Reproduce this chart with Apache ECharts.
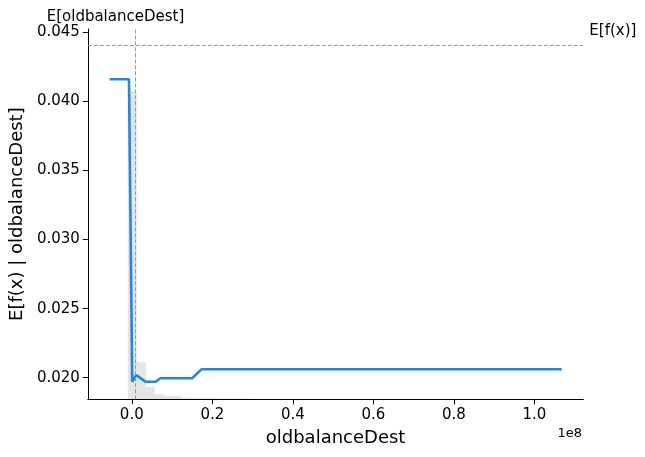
<!DOCTYPE html>
<html><head><meta charset="utf-8">
<script src="https://cdn.jsdelivr.net/npm/echarts@6/dist/echarts.min.js"></script>
<style>html,body{margin:0;padding:0;background:#fff}#c{width:645px;height:457px}</style>
</head><body><div id="c"></div>
<script>
// Partial dependence line
const lineX = [-5.5e6, -0.7e6, 0.1e6, 1.1e6, 3.4e6, 5.9e6, 7.1e6, 15.0e6, 17.3e6, 106.8e6];
const lineY = [0.0416, 0.0416, 0.01971, 0.0202, 0.01971, 0.01971, 0.01996, 0.01996, 0.02061, 0.02061];
// Histogram (bin left edges, width, fraction of samples)
const histStart = [-1.0e6, 1.25e6, 3.5e6, 5.75e6, 8.0e6, 10.25e6, 12.5e6, 14.75e6, 17.0e6, 19.25e6, 21.5e6, 23.75e6, 26.0e6, 28.25e6];
const histWidth = 2.25e6;
const histFrac = [0.831, 0.100, 0.034, 0.014, 0.009, 0.008, 0.004, 0.003, 0.003, 0.003, 0.002, 0.002, 0.002, 0.002];
// Axis ticks
const xTicks = [0, 2e7, 4e7, 6e7, 8e7, 1e8];
const yTicks = [0.020, 0.025, 0.030, 0.035, 0.040, 0.045];
const expectedValue = 0.04408;
const featureMean = 0.92e6;

const FONT = 'DejaVu Sans';
const chart = echarts.init(document.getElementById('c'), null, {renderer: 'canvas'});
const lineData = lineX.map((x, i) => [x, lineY[i]]);
const histData = histStart.map((s, i) => [s, s + histWidth, histFrac[i]]);

chart.setOption({
  animation: false,
  backgroundColor: '#fff',
  textStyle: {fontFamily: FONT},
  grid: {left: 87.3, right: 61.7, top: 29, bottom: 57.7, containLabel: false},
  xAxis: {
    type: 'value', min: -10.92e6, max: 112.16e6,
    name: 'oldbalanceDest', nameLocation: 'middle', nameGap: 30,
    nameTextStyle: {fontFamily: FONT, fontSize: 18, color: '#000'},
    axisLine: {show: true, onZero: false, lineStyle: {color: '#000', width: 1}},
    axisTick: {show: true, length: 5, lineStyle: {color: '#000'}, customValues: xTicks},
    axisLabel: {customValues: xTicks, fontFamily: FONT, fontSize: 15, color: '#000', margin: 8,
      formatter: v => (v / 1e8).toFixed(1)},
    splitLine: {show: false}
  },
  yAxis: [{
    type: 'value', min: 0.01844, max: 0.04524,
    name: 'E[f(x) | oldbalanceDest]', nameLocation: 'middle', nameGap: 61, nameRotate: 90,
    nameTextStyle: {fontFamily: FONT, fontSize: 18, color: '#000'},
    axisLine: {show: true, onZero: false, lineStyle: {color: '#000', width: 1}},
    axisTick: {show: true, length: 5, lineStyle: {color: '#000'}, customValues: yTicks},
    axisLabel: {customValues: yTicks, fontFamily: FONT, fontSize: 15, color: '#000', margin: 8,
      formatter: v => v.toFixed(3)},
    splitLine: {show: false}
  }, {
    type: 'value', min: 0, max: 1, show: false, splitLine: {show: false}
  }],
  graphic: [{
    type: 'text', right: 63, top: 427,
    style: {text: '1e8', fontFamily: FONT, fontSize: 13, fill: '#000'}
  }],
  series: [{
    type: 'custom', yAxisIndex: 1, z: 1, silent: true,
    data: histData,
    encode: {x: [0, 1], y: 2},
    renderItem: function (params, api) {
      const p0 = api.coord([api.value(0), 0]);
      const p1 = api.coord([api.value(1), api.value(2)]);
      return {type: 'rect', shape: {x: p0[0], y: p1[1], width: p1[0] - p0[0], height: p0[1] - p1[1]},
        style: {fill: 'rgba(0,0,0,0.1)'}};
    }
  }, {
    type: 'line', data: lineData, showSymbol: false, symbol: 'none', z: 3,
    lineStyle: {color: '#1E88E5', width: 2.6},
    markLine: {
      silent: true, symbol: 'none', animation: false, precision: 8,
      lineStyle: {color: '#999', type: [4, 2], width: 1},
      data: [
        {yAxis: expectedValue, label: {show: true, position: 'end', formatter: 'E[f(x)]', fontFamily: FONT, fontSize: 15, color: '#000', distance: 6, offset: [0, -14]}},
        {xAxis: featureMean, label: {show: true, position: 'end', formatter: 'E[oldbalanceDest]', fontFamily: FONT, fontSize: 15, color: '#000', distance: 4, offset: [-20, 0]}}
      ]
    }
  }]
});
</script></body></html>
